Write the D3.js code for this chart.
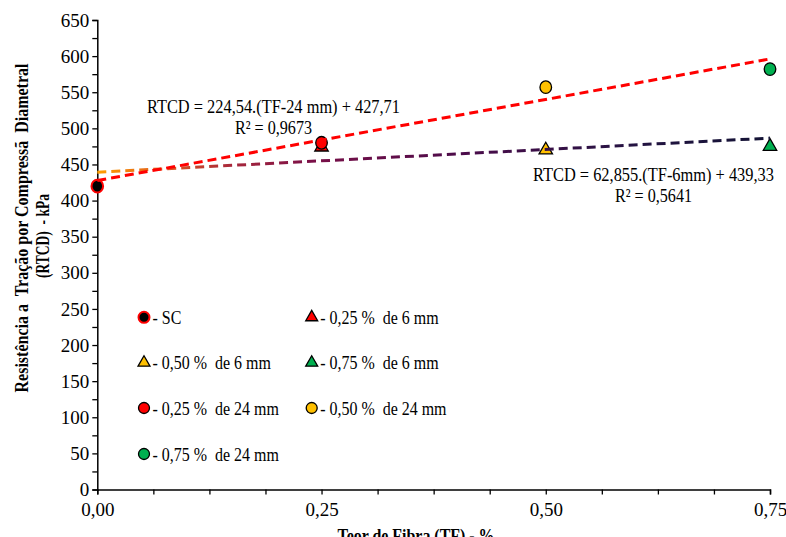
<!DOCTYPE html>
<html>
<head>
<meta charset="utf-8">
<script src="https://cdn.jsdelivr.net/npm/d3@7"></script>
<style>
  html, body { margin: 0; padding: 0; background: #fff; }
  svg { display: block; }
  text { font-family: "Liberation Serif", "Times New Roman", serif; fill: #000; white-space: pre; }
</style>
</head>
<body>
<svg id="chart" width="786" height="537"></svg>
<script>
// ---------- data ----------
const xTickValues = [0, 0.25, 0.5, 0.75];
const xTickLabels = ["0,00", "0,25", "0,50", "0,75"];
const xMinorTicks = [0.0625, 0.125, 0.1875, 0.3125, 0.375, 0.4375, 0.5625, 0.625, 0.6875];
const yTickValues = [0, 50, 100, 150, 200, 250, 300, 350, 400, 450, 500, 550, 600, 650];
const yTickLabels = ["0", "50", "100", "150", "200", "250", "300", "350", "400", "450", "500", "550", "600", "650"];
const yMinorTicks = [25, 75, 125, 175, 225, 275, 325, 375, 425, 475, 525, 575, 625];

const seriesNames = ["- SC", "- 0,25 %  de 6 mm", "- 0,50 %  de 6 mm", "- 0,75 %  de 6 mm",
                     "- 0,25 %  de 24 mm", "- 0,50 %  de 24 mm", "- 0,75 %  de 24 mm"];
const seriesX = [0, 0.25, 0.5, 0.75, 0.25, 0.5, 0.75];
const seriesY = [420, 474, 470, 475, 480, 557, 582];
const seriesShape = ["circle", "triangle", "triangle", "triangle", "circle", "circle", "circle"];
const seriesFill = ["#000000", "#FF0000", "#FFC000", "#00B050", "#FF0000", "#FFC000", "#00B050"];
const seriesStroke = ["#FF0000", "#000000", "#000000", "#000000", "#000000", "#000000", "#000000"];

const trendSlopes = [224.54, 62.855];
const trendIntercepts = [427.71, 439.33];
const trendEquations = ["RTCD = 224,54.(TF-24 mm) + 427,71", "RTCD = 62,855.(TF-6mm) + 439,33"];
const trendR2 = ["R² = 0,9673", "R² = 0,5641"];

const yTitleLines = ["Resistência a  Tração por Compressã  Diametral", "(RTCD)  - kPa"];
const xTitle = "Teor de Fibra (TF) - %";

// ---------- layout ----------
const svg = d3.select("#chart");
const x = d3.scaleLinear().domain([0, 0.75]).range([97.3, 770]);
const y = d3.scaleLinear().domain([0, 650]).range([489.5, 20]);

function condense(sel, target) {
  sel.each(function () {
    const w = this.getComputedTextLength();
    const t = target != null ? target : w * 0.84;
    d3.select(this).attr("textLength", t).attr("lengthAdjust", "spacingAndGlyphs");
  });
}

// axes
const gx = svg.append("g").attr("transform", `translate(0,${y(0)})`)
  .call(d3.axisBottom(x).tickValues(xTickValues).tickSize(5).tickPadding(8)
    .tickFormat((d, i) => xTickLabels[i]));
svg.append("g").attr("transform", `translate(0,${y(0)})`)
  .call(d3.axisBottom(x).tickValues(xMinorTicks).tickSize(5).tickFormat(""))
  .call(g => g.select(".domain").remove());
const gy = svg.append("g").attr("transform", `translate(${x(0)},0)`)
  .call(d3.axisLeft(y).tickValues(yTickValues).tickSize(5).tickPadding(3)
    .tickFormat((d, i) => yTickLabels[i]));
svg.append("g").attr("transform", `translate(${x(0)},0)`)
  .call(d3.axisLeft(y).tickValues(yMinorTicks).tickSize(5).tickFormat(""))
  .call(g => g.select(".domain").remove());

svg.selectAll(".domain").attr("stroke", "#000").attr("stroke-width", 1.5);
svg.selectAll(".tick line").attr("stroke", "#000").attr("stroke-width", 1.3);
svg.selectAll(".tick text").attr("font-family", "Liberation Serif").attr("font-size", 19).attr("fill", "#000");
gx.selectAll(".tick text").attr("dy", "0.71em");

// axis titles
const yT = svg.append("g").attr("font-weight", "bold").attr("font-size", 18);
yT.append("text").attr("transform", "translate(28,228) rotate(-90)")
  .attr("text-anchor", "middle").attr("xml:space", "preserve").text(yTitleLines[0]).call(condense, 329);
yT.append("text").attr("transform", "translate(49,236) rotate(-90)")
  .attr("text-anchor", "middle").attr("xml:space", "preserve").text(yTitleLines[1]).call(condense, 84);
svg.append("text").attr("x", 416).attr("y", 541.5).attr("text-anchor", "middle")
  .attr("font-weight", "bold").attr("font-size", 18).text(xTitle).call(condense, 157);

// points
const tri = d3.symbol(d3.symbolTriangle, 78);
seriesNames.forEach((_, i) => {
  if (seriesShape[i] === "circle") {
    svg.append("ellipse").attr("cx", x(seriesX[i])).attr("cy", y(seriesY[i]))
      .attr("rx", 5.8).attr("ry", 6.3)
      .attr("fill", seriesFill[i]).attr("stroke", seriesStroke[i])
      .attr("stroke-width", i === 0 ? 2 : 1.3);
  } else {
    svg.append("path").attr("d", tri)
      .attr("transform", `translate(${x(seriesX[i])},${y(seriesY[i])})`)
      .attr("fill", seriesFill[i]).attr("stroke", seriesStroke[i]).attr("stroke-width", 1.3);
  }
});

// gradient for 6 mm trend line
const defs = svg.append("defs");
const grad = defs.append("linearGradient").attr("id", "g6")
  .attr("gradientUnits", "userSpaceOnUse")
  .attr("x1", x(0)).attr("x2", x(0.75)).attr("y1", 0).attr("y2", 0);
[[0, "#FFA000"], [0.1, "#E05A20"], [0.2, "#A8283C"], [0.32, "#7A1048"],
 [0.55, "#4A0C4A"], [0.8, "#241442"], [1, "#121234"]].forEach(([o, c]) =>
  grad.append("stop").attr("offset", o).attr("stop-color", c));

// trend lines
const trendStroke = ["#FF0000", "url(#g6)"];
const line = d3.line().x(d => x(d[0])).y(d => y(d[1]));
[1, 0].forEach(k => {
  const pts = [0, 0.75].map(t => [t, trendIntercepts[k] + trendSlopes[k] * t]);
  svg.append("path").attr("d", line(pts)).attr("fill", "none")
    .attr("stroke", trendStroke[k]).attr("stroke-width", 3)
    .attr("stroke-dasharray", "9,5");
});

// trend labels
const eqPos = [[273.5, 112.7, 253, 134.3, 77], [653.5, 180.7, 241, 202.3, 77]];
[0, 1].forEach(k => {
  const p = eqPos[k];
  svg.append("text").attr("x", p[0]).attr("y", p[1]).attr("text-anchor", "middle")
    .attr("font-size", 19).text(trendEquations[k]).call(condense, p[2]);
  svg.append("text").attr("x", p[0]).attr("y", p[3]).attr("text-anchor", "middle")
    .attr("font-size", 19).text(trendR2[k]).call(condense, p[4]);
});

// legend
const legColX = [144, 311.7];
const legRowY = [317.3, 362.7, 408, 454];
const triL = d3.symbol(d3.symbolTriangle, 62);
seriesNames.forEach((name, i) => {
  const cx = legColX[i % 2], cy = legRowY[Math.floor(i / 2)];
  if (seriesShape[i] === "circle") {
    svg.append("circle").attr("cx", cx).attr("cy", cy).attr("r", 5.5)
      .attr("fill", seriesFill[i]).attr("stroke", seriesStroke[i])
      .attr("stroke-width", i === 0 ? 2 : 1.3);
  } else {
    svg.append("path").attr("d", triL).attr("transform", `translate(${cx},${cy})`)
      .attr("fill", seriesFill[i]).attr("stroke", seriesStroke[i]).attr("stroke-width", 1.3);
  }
  svg.append("text").attr("x", cx + 8.5).attr("y", cy + 6.5).attr("font-size", 19)
    .attr("xml:space", "preserve")
    .text(name).call(condense, null);
});
</script>
</body>
</html>
